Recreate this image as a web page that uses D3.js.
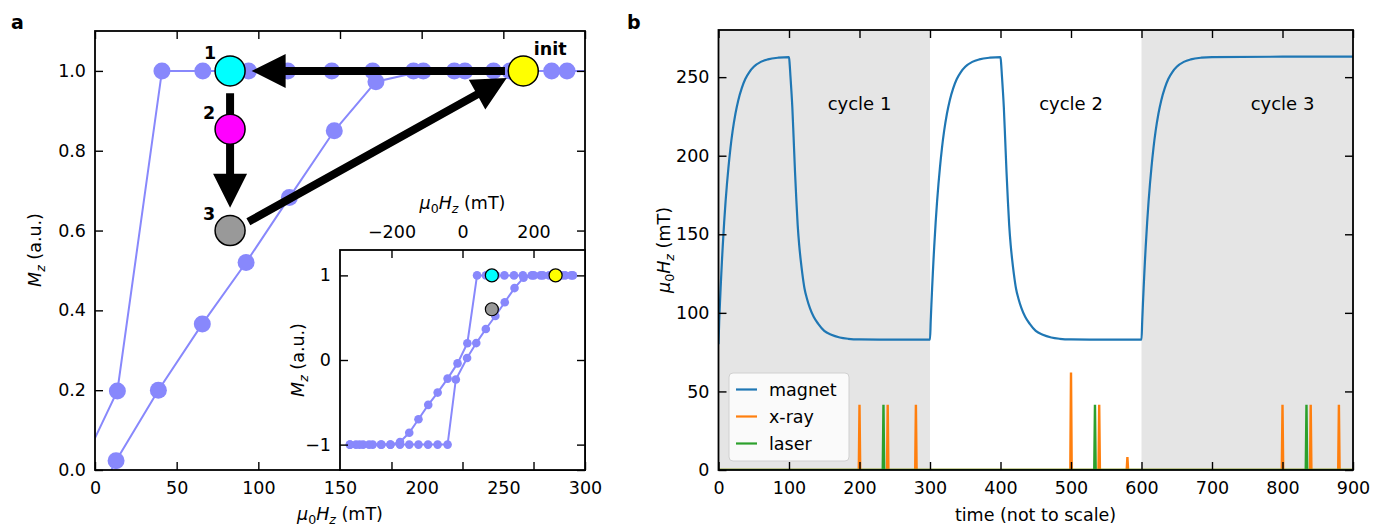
<!DOCTYPE html>
<html>
<head>
<meta charset="utf-8">
<script src="https://d3js.org/d3.v7.min.js"></script>
<style>
  body { margin: 0; background: #fff; }
  svg text { font-family: "DejaVu Sans", sans-serif; fill: #000; }
  .tick text { font-size: 17.5px; }
  .tick line { stroke: #000; stroke-width: 1.4; }
</style>
</head>
<body>
<svg id="fig" width="1375" height="526"></svg>
<script>
// ---- panel a: hysteresis loop (field in mT, Mz in a.u.) ----
// descending branch (coming down from high field)
const descField = [311, 289, 262, 244, 220, 195, 170, 145, 118, 94, 66, 41, 13.7, -14, -42, -70, -96.5, -124, -150, -176, -203, -228, -253, -280, -300, -317];
const descMz    = [1, 1, 1, 1, 1, 1, 1, 1, 1, 1, 1, 1, 0.198, -0.04, -0.22, -0.385, -0.53, -0.70, -0.86, -0.97, -1, -1, -1, -1, -1, -1];
// ascending branch (going up from low field)
const ascField = [-317, -290, -263, -230, -203, -176, -150, -124, -97, -70, -42, -18.8, 12.9, 38.8, 65.7, 92.5, 119, 146.5, 172, 201, 226.5, 254, 279.6, 306];
const ascMz    = [-1, -1, -1, -1, -1, -1, -1, -1, -1, -1, -1, -0.23, 0.023, 0.2, 0.366, 0.52, 0.683, 0.85, 0.973, 1, 1, 1, 1, 1];

// state markers
const stateNames  = ["1", "2", "3", "init"];
const stateField  = [82.7, 82.7, 82.7, 262.2];
const stateMz     = [1.0, 0.854, 0.6, 1.0];
const stateColors = ["#00ffff", "#ff00ff", "#999999", "#ffff00"];
const stateInInset = [true, false, true, true];

// arrows between states [fromField, fromMz, toField, toMz]
const arrows = [
  [251, 1.0, 95.9, 1.0],
  [82.7, 0.944, 82.7, 0.657],
  [93.9, 0.622, 252.1, 0.982]
];

const xTicksA = [0, 50, 100, 150, 200, 250, 300];
const yTicksA = [0, 0.2, 0.4, 0.6, 0.8, 1.0];
const xTicksInset = [-200, 0, 200];
const yTicksInset = [-1, 0, 1];

// ---- panel b: time sequence ----
const magnetT = [0, 1, 2, 3, 4, 5, 6, 8, 10, 12, 14, 17, 20, 24, 28, 33, 38, 44, 50, 60, 70, 85, 100,
  101, 102, 103, 104.7, 106.5, 108.5, 110.5, 112.3, 114.5, 116.5, 118.9, 122, 125.5, 129.7, 135, 141.5, 150, 160, 172, 184, 200, 230, 299.5,
  300, 301, 302, 303, 304, 305, 306, 308, 310, 312, 314, 317, 320, 324, 328, 333, 338, 344, 350, 360, 370, 385, 400,
  401, 402, 403, 404.7, 406.5, 408.5, 410.5, 412.3, 414.5, 416.5, 418.9, 422, 425.5, 429.7, 435, 441.5, 450, 460, 472, 484, 500, 530, 599.5,
  600, 601, 602, 603, 604, 605, 606, 608, 610, 612, 614, 617, 620, 624, 628, 633, 638, 644, 650, 660, 670, 685, 700, 800, 900];
const magnetV = [80, 94.6, 105.5, 115.6, 125, 134, 142.3, 157.4, 170.6, 182, 192, 205, 215.6, 226.7, 235.2, 243, 248.8, 253.4, 256.6, 259.7, 261.3, 262.4, 262.8,
  258, 251, 244, 231, 212, 190, 171, 156, 143, 134, 125, 115.5, 109, 103, 97.5, 93, 88.5, 86, 84.3, 83.5, 83.1, 83, 83,
  83, 94.6, 105.5, 115.6, 125, 134, 142.3, 157.4, 170.6, 182, 192, 205, 215.6, 226.7, 235.2, 243, 248.8, 253.4, 256.6, 259.7, 261.3, 262.4, 262.8,
  258, 251, 244, 231, 212, 190, 171, 156, 143, 134, 125, 115.5, 109, 103, 97.5, 93, 88.5, 86, 84.3, 83.5, 83.1, 83, 83,
  83, 94.6, 105.5, 115.6, 125, 134, 142.3, 157.4, 170.6, 182, 192, 205, 215.6, 226.7, 235.2, 243, 248.8, 253.4, 256.6, 259.7, 261.3, 262.4, 262.8, 263, 263];

const xrayTimes   = [200, 240, 280, 500, 540, 580, 800, 840, 880];
const xrayHeights = [41.5, 41.5, 41.5, 62, 41.5, 8.3, 41.5, 41.5, 41.5];
const laserTimes   = [234, 534, 834];
const laserHeights = [41.5, 41.5, 41.5];

const shadedSpans = [[0, 300], [600, 900]];
const cycleNames = ["cycle 1", "cycle 2", "cycle 3"];
const cycleT = [200, 500, 800];
const cycleV = [233, 233, 233];

const seriesNames  = ["magnet", "x-ray", "laser"];
const seriesColors = ["#1f77b4", "#ff7f0e", "#2ca02c"];

const xTicksB = [0, 100, 200, 300, 400, 500, 600, 700, 800, 900];
const yTicksB = [0, 50, 100, 150, 200, 250];

const blue = "#8888fc";
const fs = "17.5px";

const svg = d3.select("#fig");

// ---------- helpers ----------
function fieldLabel(t) {
  t.append("tspan").attr("font-style", "italic").text("μ");
  t.append("tspan").attr("dy", 3.5).attr("font-size", "0.72em").text("0");
  t.append("tspan").attr("dy", -3.5).attr("font-style", "italic").text("H");
  t.append("tspan").attr("dy", 3.5).attr("font-size", "0.72em").attr("font-style", "italic").text("z");
  t.append("tspan").attr("dy", -3.5).text(" (mT)");
}
function mzLabel(t) {
  t.append("tspan").attr("font-style", "italic").text("M");
  t.append("tspan").attr("dy", 3.5).attr("font-size", "0.72em").attr("font-style", "italic").text("z");
  t.append("tspan").attr("dy", -3.5).text(" (a.u.)");
}

// draws a box with inward ticks on all four sides
function frame(g, x, y, opts) {
  const [x0, x1] = x.range();
  const [y0, y1] = y.range(); // y0 bottom, y1 top
  const tl = 8;
  const bottom = d3.axisBottom(x).tickValues(opts.xt).tickSize(-tl).tickSizeOuter(0).tickPadding(12)
    .tickFormat(opts.xLabelsBottom ? opts.xfmt || (d => d) : "");
  const top = d3.axisTop(x).tickValues(opts.xt).tickSize(-tl).tickSizeOuter(0).tickPadding(12)
    .tickFormat(opts.xLabelsTop ? opts.xfmt || (d => d) : "");
  const left = d3.axisLeft(y).tickValues(opts.yt).tickSize(-tl).tickSizeOuter(0).tickPadding(9)
    .tickFormat(opts.yfmt || (d => d));
  const right = d3.axisRight(y).tickValues(opts.yt).tickSize(-tl).tickSizeOuter(0).tickFormat("");

  g.append("g").attr("transform", `translate(0,${y0})`).call(bottom);
  g.append("g").attr("transform", `translate(0,${y1})`).call(top);
  g.append("g").attr("transform", `translate(${x0},0)`).call(left);
  g.append("g").attr("transform", `translate(${x1},0)`).call(right);
  g.selectAll(".domain").remove();
  g.selectAll(".tick text").style("font-family", "DejaVu Sans, sans-serif");
  g.append("rect")
    .attr("x", x0).attr("y", y1).attr("width", x1 - x0).attr("height", y0 - y1)
    .attr("fill", "none").attr("stroke", "#000").attr("stroke-width", 1.8);
}

const minus = v => (v < 0 ? "\u2212" + Math.abs(v) : "" + v);

// ================= PANEL A =================
const xA = d3.scaleLinear().domain([0, 300]).range([95, 585]);
const yA = d3.scaleLinear().domain([0, 1.1]).range([470, 31]);

svg.append("clipPath").attr("id", "clipA").append("rect")
  .attr("x", 95).attr("y", 31).attr("width", 490).attr("height", 439);

const gA = svg.append("g");
const plotA = gA.append("g").attr("clip-path", "url(#clipA)");

function drawLoop(g, x, y, r, lw) {
  const line = d3.line().x(d => x(d[0])).y(d => y(d[1]));
  const branches = [
    d3.zip(descField, descMz),
    d3.zip(ascField, ascMz)
  ];
  branches.forEach(b => {
    g.append("path").datum(b).attr("d", line)
      .attr("fill", "none").attr("stroke", blue).attr("stroke-width", lw);
    g.selectAll(null).data(b).join("circle")
      .attr("cx", d => x(d[0])).attr("cy", d => y(d[1])).attr("r", r)
      .attr("fill", blue);
  });
}
drawLoop(plotA, xA, yA, 8.5, 2);

// arrows
const headLen = 34, headHalf = 17, shaftHalf = 4;
arrows.forEach(a => {
  const sx = xA(a[0]), sy = yA(a[1]), tx = xA(a[2]), ty = yA(a[3]);
  const L = Math.hypot(tx - sx, ty - sy);
  const ux = (tx - sx) / L, uy = (ty - sy) / L;
  const nx = -uy, ny = ux;
  const bx = tx - ux * headLen, by = ty - uy * headLen;
  const pts = [
    [sx + nx * shaftHalf, sy + ny * shaftHalf],
    [bx + nx * shaftHalf, by + ny * shaftHalf],
    [bx + nx * headHalf, by + ny * headHalf],
    [tx, ty],
    [bx - nx * headHalf, by - ny * headHalf],
    [bx - nx * shaftHalf, by - ny * shaftHalf],
    [sx - nx * shaftHalf, sy - ny * shaftHalf]
  ];
  gA.append("path").attr("d", "M" + pts.map(p => p.join(",")).join("L") + "Z").attr("fill", "#000");
});

// state markers and labels
stateNames.forEach((n, i) => {
  gA.append("circle")
    .attr("cx", xA(stateField[i])).attr("cy", yA(stateMz[i])).attr("r", 15)
    .attr("fill", stateColors[i]).attr("stroke", "#000").attr("stroke-width", 1.5);
});
const labelOffsets = [[-20, -17.5], [-21, -16], [-21, -17], [27, -22]];
stateNames.forEach((n, i) => {
  gA.append("text")
    .attr("x", xA(stateField[i]) + labelOffsets[i][0])
    .attr("y", yA(stateMz[i]) + labelOffsets[i][1])
    .attr("text-anchor", "middle").attr("dominant-baseline", "central")
    .style("font-weight", "bold").style("font-size", fs)
    .text(n);
});

frame(gA, xA, yA, {
  xt: xTicksA, yt: yTicksA, xLabelsBottom: true,
  yfmt: d3.format(".1f")
});

gA.append("text").attr("x", 340).attr("y", 520).attr("text-anchor", "middle")
  .style("font-size", fs).call(fieldLabel);
gA.append("text").attr("transform", "translate(41,250) rotate(-90)").attr("text-anchor", "middle")
  .style("font-size", fs).call(mzLabel);
svg.append("text").attr("x", 11).attr("y", 29).style("font-weight", "bold").style("font-size", "19px").text("a");

// ----- inset -----
const xI = d3.scaleLinear().domain([-345, 345]).range([340, 585]);
const yI = d3.scaleLinear().domain([-1.3, 1.3]).range([470, 250]);
const gI = svg.append("g");
gI.append("rect").attr("x", 340).attr("y", 250).attr("width", 245).attr("height", 220).attr("fill", "#fff");
svg.append("clipPath").attr("id", "clipI").append("rect")
  .attr("x", 340).attr("y", 250).attr("width", 245).attr("height", 220);
const plotI = gI.append("g").attr("clip-path", "url(#clipI)");
drawLoop(plotI, xI, yI, 4.3, 2);
stateNames.forEach((n, i) => {
  if (!stateInInset[i]) return;
  plotI.append("circle")
    .attr("cx", xI(stateField[i])).attr("cy", yI(stateMz[i])).attr("r", 6.5)
    .attr("fill", stateColors[i]).attr("stroke", "#000").attr("stroke-width", 1.2);
});
frame(gI, xI, yI, {
  xt: xTicksInset, yt: yTicksInset, xLabelsTop: true,
  xfmt: minus, yfmt: minus
});
gI.append("text").attr("x", 462.5).attr("y", 209).attr("text-anchor", "middle")
  .style("font-size", fs).call(fieldLabel);
gI.append("text").attr("transform", "translate(304,360) rotate(-90)").attr("text-anchor", "middle")
  .style("font-size", fs).call(mzLabel);

// ================= PANEL B =================
const xB = d3.scaleLinear().domain([0, 900]).range([718.5, 1353]);
const yB = d3.scaleLinear().domain([0, 280]).range([470, 30]);
const gB = svg.append("g");
svg.append("clipPath").attr("id", "clipB").append("rect")
  .attr("x", 718.5).attr("y", 30).attr("width", 634.5).attr("height", 440);
const plotB = gB.append("g").attr("clip-path", "url(#clipB)");

plotB.selectAll("rect.span").data(shadedSpans).join("rect").attr("class", "span")
  .attr("x", d => xB(d[0])).attr("width", d => xB(d[1]) - xB(d[0]))
  .attr("y", yB(280)).attr("height", yB(0) - yB(280))
  .attr("fill", "#e5e5e5");

const lineB = d3.line().x(d => xB(d[0])).y(d => yB(d[1])).curve(d3.curveMonotoneX);
plotB.append("path").datum(d3.zip(magnetT, magnetV)).attr("d", lineB)
  .attr("fill", "none").attr("stroke", seriesColors[0]).attr("stroke-width", 2.2);

function pulses(times, heights) {
  const pts = [[0, 0]];
  times.forEach((t, i) => { pts.push([t - 1, 0], [t, heights[i]], [t + 1, 0]); });
  pts.push([900, 0]);
  return pts;
}
const lineLin = d3.line().x(d => xB(d[0])).y(d => yB(d[1]));
plotB.append("path").datum(pulses(xrayTimes, xrayHeights)).attr("d", lineLin)
  .attr("fill", "none").attr("stroke", seriesColors[1]).attr("stroke-width", 2.4);
plotB.append("path").datum(pulses(laserTimes, laserHeights)).attr("d", lineLin)
  .attr("fill", "none").attr("stroke", seriesColors[2]).attr("stroke-width", 2.4);

cycleNames.forEach((c, i) => {
  gB.append("text").attr("x", xB(cycleT[i])).attr("y", yB(cycleV[i]))
    .attr("text-anchor", "middle").attr("dominant-baseline", "central")
    .style("font-size", "18px").text(c);
});

frame(gB, xB, yB, { xt: xTicksB, yt: yTicksB, xLabelsBottom: true });

// legend
const lg = gB.append("g").attr("transform", "translate(729,373)");
lg.append("rect").attr("width", 120).attr("height", 88).attr("rx", 4)
  .attr("fill", "#fff").attr("fill-opacity", 0.8).attr("stroke", "#d0d0d0").attr("stroke-width", 1);
seriesNames.forEach((n, i) => {
  const yy = 16.5 + i * 27;
  lg.append("line").attr("x1", 7).attr("x2", 28).attr("y1", yy).attr("y2", yy)
    .attr("stroke", seriesColors[i]).attr("stroke-width", 2.2);
  lg.append("text").attr("x", 40).attr("y", yy).attr("dominant-baseline", "central")
    .style("font-size", fs).text(n);
});

gB.append("text").attr("x", 1035.5).attr("y", 521).attr("text-anchor", "middle")
  .style("font-size", fs).text("time (not to scale)");
gB.append("text").attr("transform", "translate(670,250) rotate(-90)").attr("text-anchor", "middle")
  .style("font-size", fs).call(fieldLabel);
svg.append("text").attr("x", 627).attr("y", 29).style("font-weight", "bold").style("font-size", "19px").text("b");
</script>
</body>
</html>
